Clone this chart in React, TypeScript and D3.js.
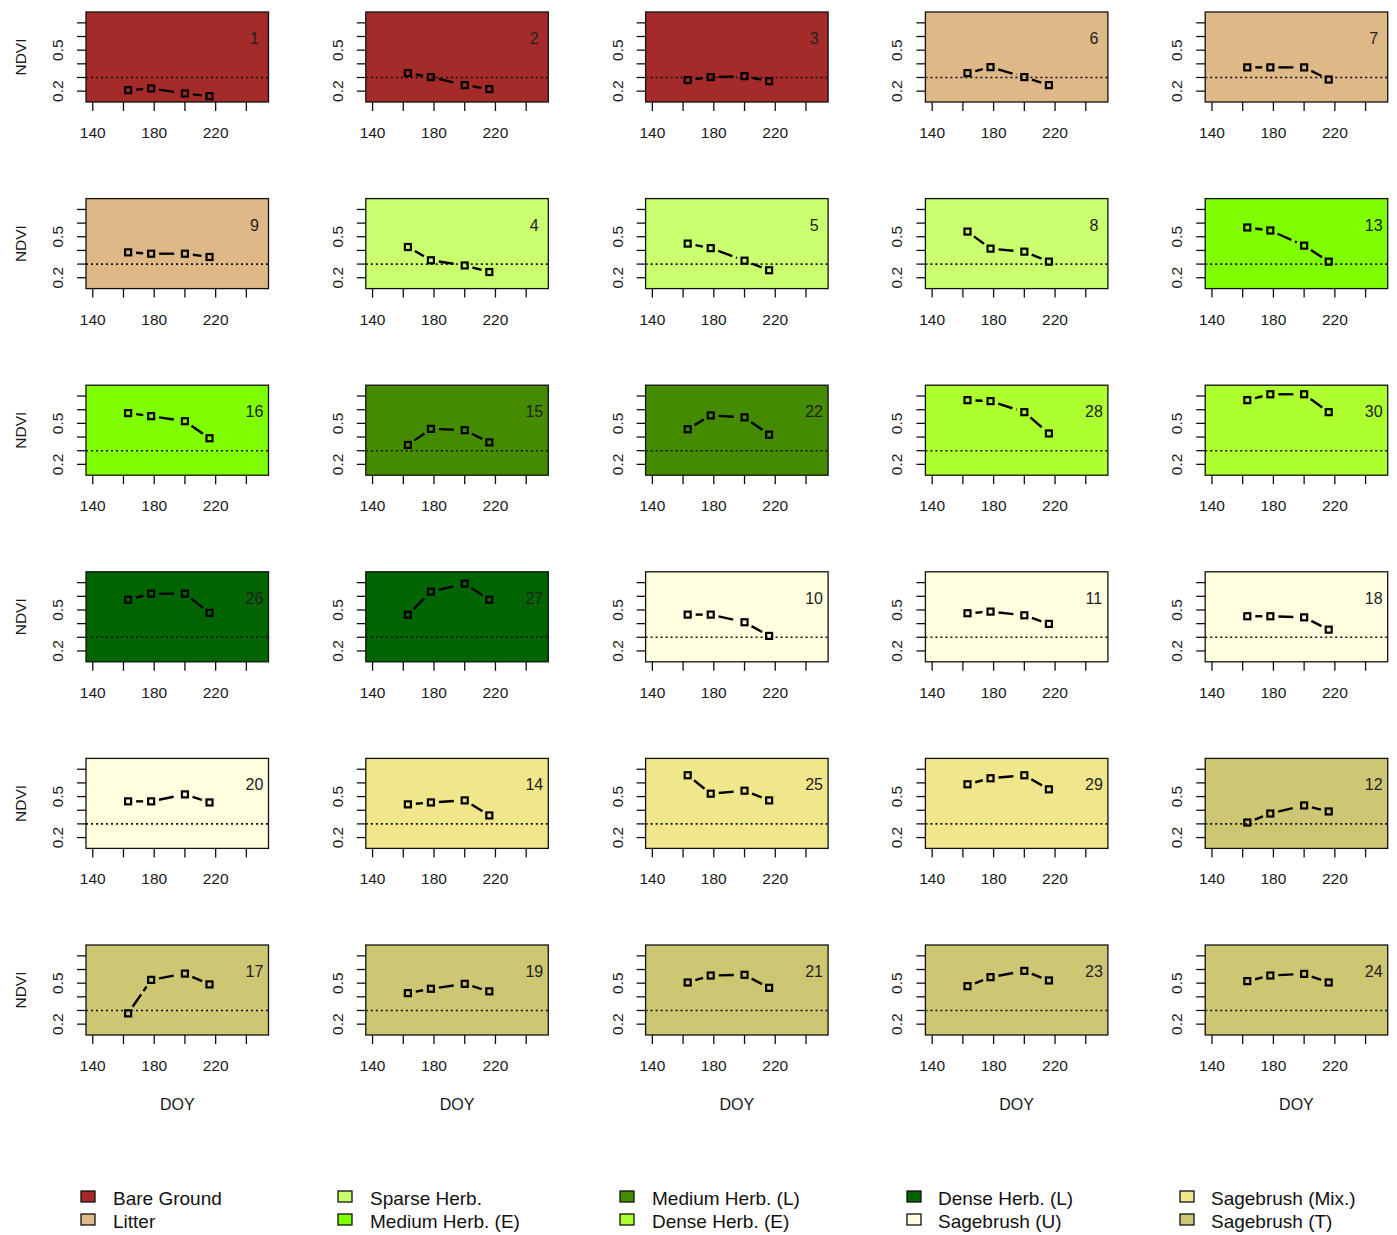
import * as React from "react";
import * as d3 from "d3";

// land cover classes, in legend order
const classNames = [
  "Bare Ground", "Litter", "Sparse Herb.", "Medium Herb. (E)", "Medium Herb. (L)",
  "Dense Herb. (E)", "Dense Herb. (L)", "Sagebrush (U)", "Sagebrush (Mix.)", "Sagebrush (T)",
];
const classColors = [
  "#A52A2A", "#DEB887", "#CAFF70", "#7FFF00", "#458B00",
  "#ADFF2F", "#006400", "#FFFFE0", "#F0E68C", "#CDC673",
];

// plots, row by row
const plotIds = [1, 2, 3, 6, 7, 9, 4, 5, 8, 13, 16, 15, 22, 28, 30, 26, 27, 10, 11, 18, 20, 14, 25, 29, 12, 17, 19, 21, 23, 24];
const plotClass = [0, 0, 0, 1, 1, 1, 2, 2, 2, 3, 3, 4, 4, 5, 5, 6, 6, 7, 7, 7, 7, 8, 8, 8, 9, 9, 9, 9, 9, 9];

const doy = [163, 178, 200, 216];
const ndvi = [
  [0.207, 0.22, 0.183, 0.163],
  [0.332, 0.303, 0.244, 0.215],
  [0.281, 0.303, 0.31, 0.273],
  [0.332, 0.376, 0.303, 0.244],
  [0.374, 0.374, 0.374, 0.285],
  [0.386, 0.376, 0.376, 0.352],
  [0.425, 0.328, 0.29, 0.242],
  [0.45, 0.417, 0.325, 0.255],
  [0.538, 0.413, 0.391, 0.318],
  [0.568, 0.546, 0.435, 0.318],
  [0.575, 0.553, 0.516, 0.391],
  [0.342, 0.46, 0.45, 0.361],
  [0.457, 0.558, 0.544, 0.417],
  [0.67, 0.663, 0.582, 0.426],
  [0.67, 0.713, 0.713, 0.582],
  [0.575, 0.619, 0.619, 0.479],
  [0.465, 0.634, 0.693, 0.575],
  [0.466, 0.466, 0.41, 0.31],
  [0.476, 0.488, 0.461, 0.398],
  [0.454, 0.454, 0.446, 0.356],
  [0.465, 0.465, 0.516, 0.457],
  [0.443, 0.457, 0.472, 0.362],
  [0.656, 0.521, 0.543, 0.472],
  [0.59, 0.634, 0.656, 0.553],
  [0.31, 0.376, 0.435, 0.391],
  [0.279, 0.524, 0.57, 0.491],
  [0.427, 0.459, 0.495, 0.44],
  [0.505, 0.556, 0.561, 0.466],
  [0.478, 0.544, 0.59, 0.52],
  [0.515, 0.556, 0.568, 0.505],
];

const threshold = 0.3;
const xTicks = [140, 160, 180, 200, 220, 240];
const xLabels = [140, 180, 220];
const yTicks = [0.2, 0.3, 0.4, 0.5, 0.6, 0.7];
const yLabels = [0.2, 0.5];

const W = 1397, H = 1235;
const pw = 182.5, ph = 90;
const colStep = 279.8, rowStep = 186.6;
const left0 = 86, top0 = 12;
const font = "'Liberation Sans', Arial, sans-serif";

const x = d3.scaleLinear().domain([135.6, 254.4]).range([0, pw]);
const y = d3.scaleLinear().domain([0.1206, 0.7794]).range([ph, 0]);

const Panel = ({ i }: { i: number }) => {
  const col = i % 5, row = Math.floor(i / 5);
  const vals = ndvi[i];
  const pts = vals.map((v, k) => [x(doy[k]), y(v)]);
  const gap = 8;
  const segs = pts.slice(1).map((p, k) => {
    const a = pts[k];
    const dx = p[0] - a[0], dy = p[1] - a[1];
    const len = Math.hypot(dx, dy);
    if (len <= 2 * gap) return null;
    const ux = dx / len, uy = dy / len;
    return [a[0] + ux * gap, a[1] + uy * gap, p[0] - ux * gap, p[1] - uy * gap];
  });
  return (
    <g transform={`translate(${left0 + col * colStep},${top0 + row * rowStep})`}>
      <rect width={pw} height={ph} fill={classColors[plotClass[i]]} stroke="#111" strokeWidth={1.3} />
      <line x1={0} x2={pw} y1={y(threshold)} y2={y(threshold)} stroke="#111" strokeWidth={1.6} strokeDasharray="2,3" />
      {segs.map((s, k) => s && (
        <line key={k} x1={s[0]} y1={s[1]} x2={s[2]} y2={s[3]} stroke="#000" strokeWidth={2.4} strokeDasharray="15,4" />
      ))}
      {pts.map((p, k) => (
        <rect key={k} x={p[0] - 3} y={p[1] - 3} width={6} height={6} fill="none" stroke="#000" strokeWidth={2.2} />
      ))}
      <text x={pw - 14} y={32} fontSize={16} fill="#222" textAnchor="middle" fontFamily={font}>{plotIds[i]}</text>
      {xTicks.map(t => (
        <line key={t} x1={x(t)} x2={x(t)} y1={ph} y2={ph + 9} stroke="#111" strokeWidth={1.3} />
      ))}
      {xLabels.map(t => (
        <text key={t} x={x(t)} y={ph + 36} fontSize={15.5} fill="#1a1a1a" textAnchor="middle" fontFamily={font}>{t}</text>
      ))}
      {yTicks.map(t => (
        <line key={t} x1={-9} x2={0} y1={y(t)} y2={y(t)} stroke="#111" strokeWidth={1.3} />
      ))}
      {yLabels.map(t => (
        <text key={t} transform={`translate(-23,${y(t)}) rotate(-90)`} fontSize={15.5} fill="#1a1a1a" textAnchor="middle" fontFamily={font}>{t.toFixed(1)}</text>
      ))}
      {col === 0 && (
        <text transform={`translate(-60,${ph / 2}) rotate(-90)`} fontSize={15.5} fill="#1a1a1a" textAnchor="middle" fontFamily={font}>NDVI</text>
      )}
      {row === 5 && (
        <text x={pw / 2} y={ph + 75} fontSize={16} fill="#1a1a1a" textAnchor="middle" fontFamily={font}>DOY</text>
      )}
    </g>
  );
};

const legendBoxX = [81, 338, 620, 907, 1180];
const legendTextX = [113, 370, 652, 938, 1211];

export default function App() {
  return (
    <svg width={W} height={H} style={{ position: "absolute", left: 0, top: 0, background: "#fff" }}>
      <rect width={W} height={H} fill="#fff" />
      {plotIds.map((_, i) => <Panel key={i} i={i} />)}
      {classNames.map((name, k) => {
        const c = Math.floor(k / 2), r = k % 2;
        const base = 1205 + r * 23;
        return (
          <g key={name}>
            <rect x={legendBoxX[c]} y={base - 14} width={14} height={11} fill={classColors[k]} stroke="#111" strokeWidth={1.3} />
            <text x={legendTextX[c]} y={base} fontSize={19} fill="#111" fontFamily={font}>{name}</text>
          </g>
        );
      })}
    </svg>
  );
}
